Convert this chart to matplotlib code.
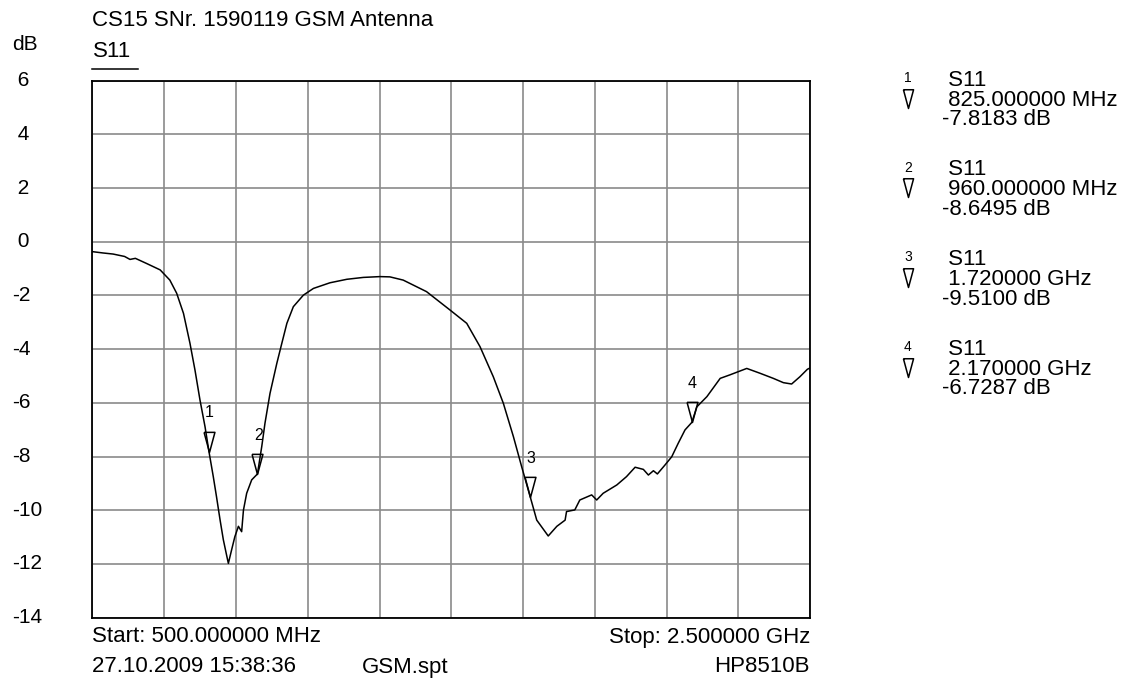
from matplotlib import pyplot as plt
from matplotlib.transforms import blended_transform_factory

plt.rcParams['font.family'] = ['Liberation Sans', 'DejaVu Sans']

# S11 trace (MHz, dB)
freq = [500, 530, 558, 590, 605, 620, 651, 689, 716, 735, 754, 772, 786, 800, 814,
        825, 837, 846, 856, 865, 874, 879, 888, 897, 907, 916, 921, 930, 944, 960,
        972, 981, 995, 1014, 1028, 1042, 1060, 1088, 1116, 1162, 1209, 1255, 1301,
        1329, 1366, 1431, 1496, 1543, 1580, 1617, 1645, 1673, 1696, 1720, 1738, 1770,
        1794, 1817, 1821, 1844, 1858, 1891, 1905, 1923, 1961, 1988, 2012, 2035, 2049,
        2063, 2074, 2095, 2114, 2132, 2151, 2170, 2184, 2212, 2249, 2276, 2323, 2360,
        2397, 2425, 2448, 2471, 2492, 2500]
s11 = [-0.37, -0.42, -0.46, -0.55, -0.66, -0.62, -0.81, -1.05, -1.43, -1.92, -2.67,
       -3.78, -4.78, -5.90, -6.89, -7.82, -8.75, -9.50, -10.37, -11.10, -11.67, -11.98,
       -11.48, -10.99, -10.60, -10.80, -10.00, -9.37, -8.87, -8.65, -7.63, -6.76, -5.65,
       -4.53, -3.78, -3.04, -2.42, -1.99, -1.74, -1.53, -1.40, -1.33, -1.30, -1.31,
       -1.43, -1.86, -2.54, -3.04, -3.91, -5.03, -6.02, -7.26, -8.38, -9.51, -10.37,
       -10.96, -10.60, -10.37, -10.05, -9.99, -9.62, -9.43, -9.62, -9.37, -9.06, -8.75,
       -8.40, -8.48, -8.69, -8.53, -8.65, -8.32, -8.01, -7.51, -7.01, -6.73, -6.15,
       -5.77, -5.09, -4.96, -4.72, -4.90, -5.09, -5.25, -5.30, -5.03, -4.75, -4.70]

marker_freq = [825, 960, 1720, 2170]
marker_db = [-7.8183, -8.6495, -9.5100, -6.7287]
marker_freq_txt = ["825.000000 MHz", "960.000000 MHz", "1.720000 GHz", "2.170000 GHz"]
marker_db_txt = ["-7.8183 dB", "-8.6495 dB", "-9.5100 dB", "-6.7287 dB"]

y_ticks = [6, 4, 2, 0, -2, -4, -6, -8, -10, -12, -14]
y_labels = [" 6", " 4", " 2", " 0", "-2", "-4", "-6", "-8", "-10", "-12", "-14"]

W, H = 1128, 690
fig = plt.figure(figsize=(W / 100, H / 100), dpi=100)
ax = fig.add_axes([92.3 / W, 1 - 617.6 / H, 718 / W, 537 / H])

ax.plot(freq, s11, color='black', lw=1.1, zorder=3)

# marker triangle, apex on the data point
tri = [(-0.27, 1), (0.27, 1), (0, 0), (-0.27, 1)]
for i in range(len(marker_freq)):
    ax.plot(marker_freq[i], marker_db[i], marker=tri, ms=29, mfc='none', mec='black',
            mew=1.1, zorder=4)
    ax.annotate(str(i + 1), (marker_freq[i], marker_db[i]), xytext=(0.5, 28),
                textcoords='offset points', ha='center', va='center', fontsize=11.5)

ax.set_xlim(500, 2500)
ax.set_ylim(-14, 6)
ax.set_xticks(range(500, 2501, 200))
ax.set_yticks(y_ticks)
ax.grid(True, color='#8a8a8a', lw=1.2)
ax.tick_params(length=0, labelbottom=False, labelleft=False)
for s in ax.spines.values():
    s.set_linewidth(1.3)
    s.set_zorder(5)

tr = blended_transform_factory(fig.transFigure, ax.transData)
for v, lab in zip(y_ticks, y_labels):
    ax.text(12 / W, v, lab, transform=tr, ha='left', va='center', fontsize=15)


def ft(x, y, s, **kw):
    fig.text(x / W, 1 - y / H, s, va='center', fontsize=kw.pop('fontsize', 16), **kw)


ft(92, 20, "CS15 SNr. 1590119 GSM Antenna")
ft(12, 45, "dB", fontsize=15)
ft(93, 51.5, "S11")
fig.add_artist(plt.Line2D([92 / W, 138 / W], [1 - 69 / H, 1 - 69 / H], color='black', lw=1.1))

ft(92, 637, "Start: 500.000000 MHz")
ft(810, 637, "Stop: 2.500000 GHz", ha='right')
ft(92, 667, "27.10.2009 15:38:36")
ft(362, 667, "GSM.spt")
ft(810, 667, "HP8510B", ha='right')

# marker readout on the right, one text block per marker
for i in range(len(marker_freq)):
    y0 = 81 + i * 89.7
    ft(908, y0 - 3, str(i + 1), fontsize=10, ha='center')
    block = " S11\n " + marker_freq_txt[i] + "\n" + marker_db_txt[i]
    ft(942, y0 + 19, block, linespacing=0.92)
    fig.add_artist(plt.Line2D([907.5 / W], [1 - (y0 + 26.5) / H], marker=tri, ms=27,
                              mfc='none', mec='black', mew=1.1))

fig.savefig("out.png", dpi=100)
